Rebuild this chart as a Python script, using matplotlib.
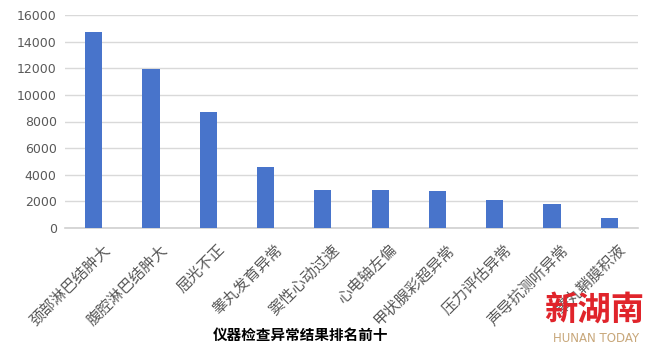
import matplotlib
matplotlib.use("Agg")
import matplotlib.pyplot as plt
import matplotlib.transforms as mtransforms

plt.rcParams['font.family'] = ['Noto Sans CJK SC', 'DejaVu Sans']

categories = ["颈部淋巴结肿大", "腹腔淋巴结肿大", "屈光不正", "睾丸发育异常", "窦性心动过速",
              "心电轴左偏", "甲状腺彩超异常", "压力评估异常", "声导抗测听异常", "睾丸鞘膜积液"]
values = [14750, 11970, 8740, 4600, 2880, 2880, 2800, 2120, 1820, 770]
yticks = [0, 2000, 4000, 6000, 8000, 10000, 12000, 14000, 16000]
title = "仪器检查异常结果排名前十"

fig = plt.figure(figsize=(6.51, 3.51), dpi=100)
ax = fig.add_axes([65/651, 1-228/351, (638-65)/651, (228-15)/351])

x = list(range(len(categories)))
ax.bar(x, values, width=0.3, color="#4874cb", zorder=3)
ax.set_xlim(-0.5, len(categories)-0.5)
ax.set_ylim(0, 16000)
ax.set_yticks(yticks)
ax.set_yticklabels([str(v) for v in yticks], fontsize=9, color="#595959", family="DejaVu Sans")
ax.grid(axis='y', color="#d9d9d9", linewidth=1, zorder=0)
for s in ['top', 'right', 'left']:
    ax.spines[s].set_visible(False)
ax.spines['bottom'].set_color("#d0d0d0")
ax.spines['bottom'].set_linewidth(1.2)
ax.tick_params(axis='both', length=0)
ax.tick_params(axis='y', pad=6)

ax.set_xticks(x)
ax.set_xticklabels(categories, rotation=45, ha='right', va='center', rotation_mode='anchor',
                   fontsize=11, color="#595959")
ax.tick_params(axis='x', pad=14)
offset = mtransforms.ScaledTranslation(14/100, 0, fig.dpi_scale_trans)
for lab in ax.get_xticklabels():
    lab.set_transform(lab.get_transform() + offset)

fig.text(301/651, 1-335/351, title, ha='center', va='center', fontsize=10.5,
         fontweight='bold', color='black')

# watermark
fig.text(594/651, 1-310/351, "新湖南", ha='center', va='center', fontsize=24,
         fontweight='heavy', color="#e0242b", style='italic')
fig.text(596/651, 1-339/351, "HUNAN TODAY", ha='center', va='center', fontsize=8.5,
         color="#c8a77a", family="DejaVu Sans")

fig.savefig("out.png", dpi=100)
